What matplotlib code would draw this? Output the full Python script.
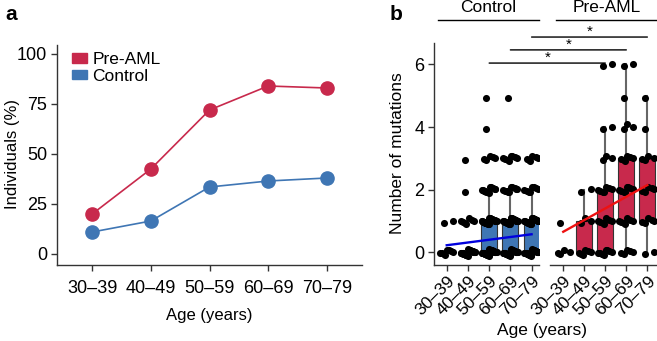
import numpy as np
import matplotlib.pyplot as plt
from matplotlib.patches import ConnectionPatch, Patch
from matplotlib.lines import Line2D

plt.rcParams['font.family'] = ['Liberation Sans', 'DejaVu Sans']

age_groups = ['30–39', '40–49', '50–59', '60–69', '70–79']

# panel a: individuals with mutations (%)
pct_preaml = [20, 42.5, 72, 84, 83]
pct_control = [11, 16.5, 33.5, 36.5, 38]

# panel b: how many individuals carry 0..6 mutations, per age group
mut_levels = [0, 1, 2, 3, 4, 5, 6]
control_counts = [
    [8, 2, 0, 0, 0, 0, 0],
    [28, 7, 1, 1, 0, 0, 0],
    [35, 28, 12, 5, 1, 1, 0],
    [35, 28, 10, 8, 0, 1, 0],
    [32, 24, 8, 6, 0, 0, 0],
]
preaml_counts = [
    [4, 1, 0, 0, 0, 0, 0],
    [6, 3, 2, 0, 0, 0, 0],
    [9, 7, 7, 3, 2, 0, 2],
    [5, 7, 8, 6, 3, 1, 2],
    [2, 5, 5, 4, 1, 1, 0],
]
# linear fit, value at 30-39 and at 70-79
control_fit = [0.23, 0.58]
preaml_fit = [0.66, 2.15]
# significance brackets (age group index, height)
sig_groups = [2, 3, 4]
sig_heights = [6.04, 6.46, 6.87]

RED = '#C8294C'
BLUE = '#3F76B4'
GREY = '#333333'

W, H = 657, 341
fig = plt.figure(figsize=(W / 100, H / 100), dpi=100)


def px_axes(x0, y0, x1, y1):
    return fig.add_axes([x0 / W, 1 - y1 / H, (x1 - x0) / W, (y1 - y0) / H])


def style(ax):
    for s in ['top', 'right']:
        ax.spines[s].set_visible(False)
    for s in ['left', 'bottom']:
        ax.spines[s].set_color(GREY)
        ax.spines[s].set_linewidth(1)
    ax.tick_params(colors=GREY, labelcolor='black', length=4, width=1, pad=3)


# ---- panel a
ax_a = px_axes(57, 45, 362, 265)
style(ax_a)
x = np.arange(len(age_groups))
ax_a.plot(x, pct_preaml, '-o', color=RED, lw=1.2, ms=9.5, zorder=3)
ax_a.plot(x, pct_control, '-o', color=BLUE, lw=1.2, ms=9.5, zorder=3)
ax_a.set_xlim(-0.6, 4.6)
ax_a.set_ylim(-5.5, 104.5)
ax_a.set_yticks([0, 25, 50, 75, 100])
ax_a.set_xticks(x)
ax_a.set_xticklabels(age_groups)
ax_a.tick_params(labelsize=13)
ax_a.tick_params(axis='x', pad=7)
ax_a.set_ylabel('Individuals (%)', fontsize=12)
ax_a.yaxis.set_label_coords(-0.121, 0.505)
ax_a.set_xlabel('Age (years)', fontsize=12, labelpad=8)
handles = [Patch(color=RED), Patch(color=BLUE)]
ax_a.legend(handles, ['Pre-AML', 'Control'], loc='upper left',
            bbox_to_anchor=(0.025, 1.0), frameon=False, fontsize=12.5,
            handlelength=0.9, handleheight=0.5, handletextpad=0.3,
            labelspacing=0.1, borderaxespad=0)
fig.text(5 / W, 1 - 15 / H, 'a', fontsize=15, fontweight='bold', va='center')

# ---- panel b
ax_c = px_axes(434, 43, 539, 265)
ax_p = px_axes(550, 43, 660, 265)


def jitter(counts):
    xs, ys = [], []
    for i, row in enumerate(counts):
        for v, n in zip(mut_levels, row):
            if n == 0:
                continue
            k = np.arange(n) + 0.5
            xs.extend(i + ((k * 0.618) % 1 - 0.5) * 0.7)
            ys.extend(v + ((k * 0.382) % 1 - 0.5) * 0.2)
    return xs, ys


for ax, counts, col, fit in [(ax_c, control_counts, BLUE, control_fit),
                             (ax_p, preaml_counts, RED, preaml_fit)]:
    style(ax)
    data = [np.repeat(mut_levels, row) for row in counts]
    ax.boxplot(data, positions=x, widths=0.75, patch_artist=True,
               showfliers=False, whis=1.5,
               boxprops=dict(facecolor=col, edgecolor=GREY, lw=0.8),
               medianprops=dict(color=GREY, lw=1),
               whiskerprops=dict(color='#666666', lw=1.5),
               capprops=dict(visible=False), zorder=2)
    xs, ys = jitter(counts)
    ax.scatter(xs, ys, s=26, color='black', lw=0, zorder=3)
    ax.plot([0, 4], fit, color='#0000DD' if col == BLUE else '#EE1111',
            lw=1.7, zorder=4)
    ax.set_ylim(-0.4, 6.68)
    ax.set_xticks(x)
    ax.set_xticklabels(age_groups, rotation=45, ha='right',
                       rotation_mode='anchor', fontsize=12.5)
    ax.tick_params(axis='x', pad=2)

ax_c.set_xlim(-0.6, 4.35)
ax_p.set_xlim(-0.63, 4.6)
ax_c.set_yticks([0, 2, 4, 6])
ax_c.tick_params(axis='y', labelsize=13)
ax_c.set_ylabel('Number of mutations', fontsize=12.5)
ax_c.yaxis.set_label_coords(-0.276, 0.505)
ax_p.spines['left'].set_visible(False)
ax_p.set_yticks([])

fig.text(541.7 / W, 1 - 331 / H, 'Age (years)', fontsize=12.5,
         ha='center', va='center')
fig.text(390 / W, 1 - 15 / H, 'b', fontsize=15, fontweight='bold', va='center')

# facet strips
for label, x0, x1 in [('Control', 438, 539), ('Pre-AML', 556, 657)]:
    fig.text((x0 + x1) / 2 / W, 1 - 8 / H, label, fontsize=12.5,
             ha='center', va='center')
    fig.add_artist(Line2D([x0 / W, x1 / W], [1 - 20 / H, 1 - 20 / H],
                          transform=fig.transFigure, color='black', lw=1))

# significance brackets
inv = fig.transFigure.inverted()
for g, h in zip(sig_groups, sig_heights):
    con = ConnectionPatch(xyA=(g, h), coordsA='data', axesA=ax_c,
                          xyB=(g, h), coordsB='data', axesB=ax_p,
                          color='black', lw=1)
    con.set_annotation_clip(False)
    fig.add_artist(con)
    pa = ax_c.transData.transform((g, h))
    pb = ax_p.transData.transform((g, h))
    mx, my = inv.transform(((pa[0] + pb[0]) / 2, pa[1] + 5))
    fig.text(mx, my, '*', fontsize=11, ha='center', va='center')

fig.savefig('out.png', dpi=100)
